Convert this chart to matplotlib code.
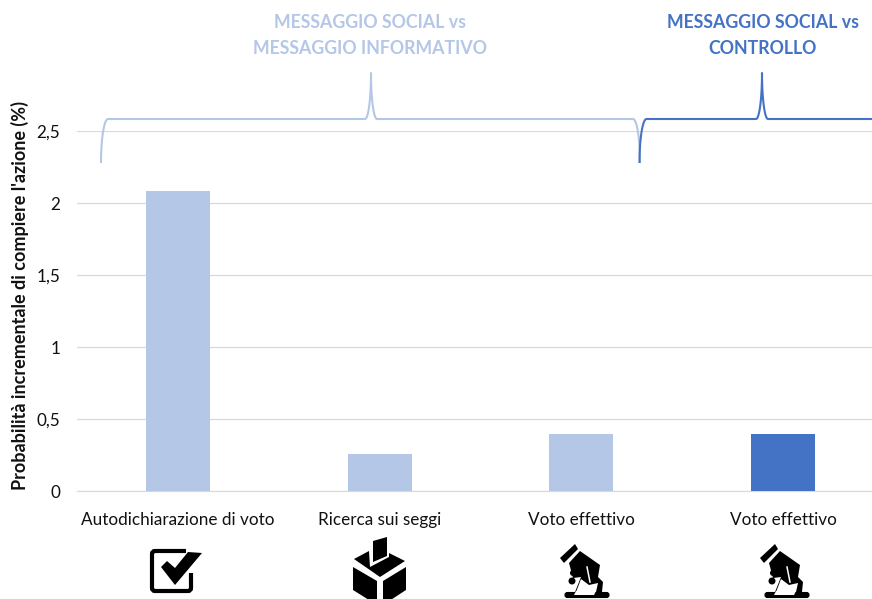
import numpy as np
import matplotlib
matplotlib.use('Agg')
import matplotlib.pyplot as plt
from matplotlib.patches import Polygon, FancyBboxPatch, Circle, Rectangle

W = 872
H = 599
LIGHT = '#b4c7e7'
BLUE = '#4472c4'
GRID = '#d9d9d9'

categories = ['Autodichiarazione di voto', 'Ricerca sui seggi', 'Voto effettivo', 'Voto effettivo']
values = [2.08, 0.26, 0.395, 0.395]
bar_colors = [LIGHT, LIGHT, LIGHT, BLUE]
y_ticks = [0, 0.5, 1, 1.5, 2, 2.5]
y_labels = ['0', '0,5', '1', '1,5', '2', '2,5']
ylabel = "Probabilità incrementale di compiere l'azione (%)"
head_left = ['MESSAGGIO SOCIAL vs', 'MESSAGGIO INFORMATIVO']
head_right = ['MESSAGGIO SOCIAL vs', 'CONTROLLO']

plt.rcParams['font.family'] = ['Lato', 'DejaVu Sans']

fig = plt.figure(figsize=(W / 100, H / 100), dpi=100)
ax = fig.add_axes([77 / W, 1 - 491 / H, 807 / W, 360 / H])
x = np.arange(len(values))
ax.bar(x, values, width=0.317, color=bar_colors, zorder=3)
ax.set_xlim(-0.5, 3.5)
ax.set_ylim(0, 2.5)
ax.set_yticks(y_ticks)
ax.set_yticklabels(y_labels, fontsize=12.3, color='#111111')
ax.set_xticks(x)
ax.set_xticklabels(categories, fontsize=12.3, color='#111111')
ax.tick_params(length=0)
ax.tick_params(axis='x', pad=15)
ax.tick_params(axis='y', pad=12)
ax.grid(axis='y', color=GRID, lw=0.9, zorder=0)
for s in ax.spines.values():
    s.set_visible(False)
ax.spines['bottom'].set_visible(True)
ax.spines['bottom'].set_color(GRID)
fig.text(20 / W, 1 - 295 / H, ylabel, rotation=90, ha='center', va='center',
         fontsize=13, fontweight='bold', color='#111111')

# overlay in pixel coords for brackets and icons
ov = fig.add_axes([0, 0, 1, 1])
ov.set_xlim(0, W)
ov.set_ylim(H, 0)
ov.axis('off')
ov.patch.set_alpha(0)


def bracket(x0, xm, x1, color, closed=True):
    # curly brace: foot at x0, spike at xm
    a = np.linspace(0, np.pi / 2, 30)
    xs = list(x0 + 7 * (1 - np.cos(a)))
    ys = list(163 - 44 * np.sin(a))
    xs += list(xm - 6 + 6 * np.sin(a))
    ys += list(119 - 46 * (1 - np.cos(a)))
    xs += list(xm + 6 - 6 * np.sin(a[::-1]))
    ys += list(119 - 46 * (1 - np.cos(a[::-1])))
    if closed:
        xs += list(x1 - 7 * (1 - np.cos(a[::-1])))
        ys += list(163 - 44 * np.sin(a[::-1]))
    else:
        xs.append(x1)
        ys.append(119)
    ov.plot(xs, ys, color=color, lw=1.5, solid_capstyle='butt', solid_joinstyle='round')


bracket(101, 371, 640, LIGHT)
bracket(639.5, 762, 880, BLUE, closed=False)

for i, t in enumerate(head_left):
    ov.text(370, 22 + 26 * i, t, ha='center', va='center', fontsize=12.8, fontweight='bold', color=LIGHT)
for i, t in enumerate(head_right):
    ov.text(763, 22 + 26 * i, t, ha='center', va='center', fontsize=12.8, fontweight='bold', color=BLUE)

# checkbox
ov.add_patch(FancyBboxPatch((152, 551), 39, 40, boxstyle='round,pad=0,rounding_size=3',
                            fc='none', ec='black', lw=3))
ov.add_patch(Rectangle((186, 546), 11, 27, fc='white', ec='none'))
ov.add_patch(Polygon([(161, 567), (167, 561), (175, 568), (188, 552), (202, 553), (175, 585)], fc='black', ec='none'))

# ballot box
ov.add_patch(Polygon([(373, 541), (387, 537), (387, 556), (373, 562)], fc='black', ec='none'))
ov.add_patch(Polygon([(354, 559), (369, 551), (370, 567), (389, 557), (389, 553), (405, 561), (380, 577)], fc='black', ec='none'))
ov.add_patch(Polygon([(353, 567), (377, 581), (377, 605), (353, 590)], fc='black', ec='none'))
ov.add_patch(Polygon([(406, 567), (383, 581), (383, 605), (406, 590)], fc='black', ec='none'))


def voting_hand(dx):
    # ballot slip, fist, base
    ov.add_patch(Polygon([(dx + 20, 558), (dx + 35, 544), (dx + 38, 549), (dx + 24, 563)], fc='black', ec='none'))
    ov.add_patch(Polygon([(dx + 29, 563), (dx + 40, 551), (dx + 60, 565), (dx + 58, 577), (dx + 63, 582),
                          (dx + 62, 592), (dx + 35, 592), (dx + 41, 577), (dx + 33, 578)], fc='black', ec='none'))
    ov.add_patch(Circle((dx + 33, 573), 3, fc='black', ec='none'))
    ov.add_patch(Circle((dx + 32, 581), 3.5, fc='black', ec='none'))
    # white palm and finger gap
    ov.add_patch(Polygon([(dx + 41, 579), (dx + 49, 585), (dx + 58, 583), (dx + 56, 592),
                          (dx + 36, 592), (dx + 38, 587)], fc='white', ec='none'))
    ov.plot([dx + 47, dx + 50], [567, 582], color='white', lw=1.1)
    ov.add_patch(FancyBboxPatch((dx + 25, 592.5), 44, 5, boxstyle='round,pad=0,rounding_size=2.4',
                                fc='black', ec='black', lw=0.8))
    ov.add_patch(Polygon([(dx + 36, 591), (dx + 56, 591), (dx + 54, 595), (dx + 34, 595)], fc='white', ec='none'))


voting_hand(540)
voting_hand(740)

fig.savefig('out.png', dpi=100)
